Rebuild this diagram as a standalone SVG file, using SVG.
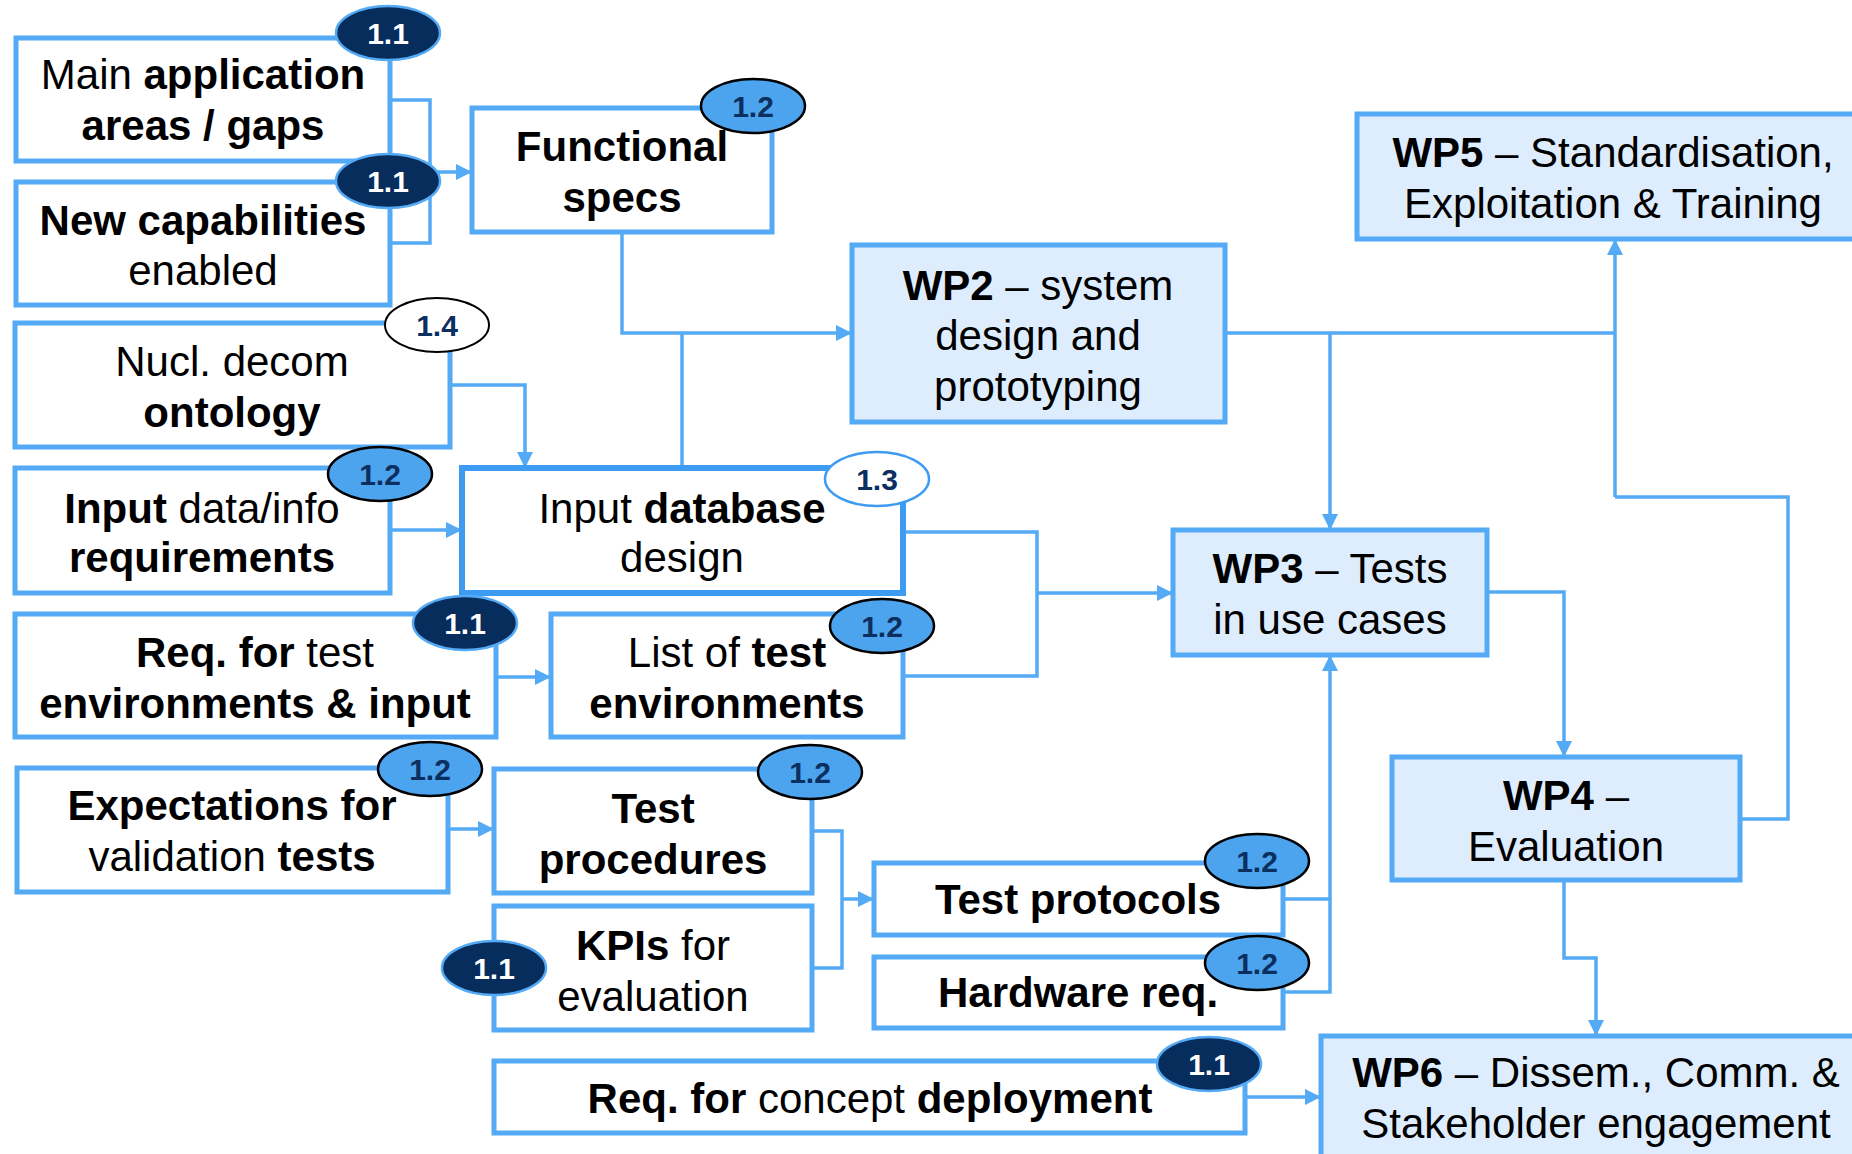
<svg xmlns="http://www.w3.org/2000/svg" width="1852" height="1154" viewBox="0 0 1852 1154">
<style>
.box{fill:#ffffff;stroke:#55aaf5;stroke-width:5}
.boxdb{fill:#ffffff;stroke:#3d9bf2;stroke-width:6}
.wp{fill:#ddedfd;stroke:#55aaf5;stroke-width:5}
.t{font-family:"Liberation Sans",Arial,sans-serif;font-size:42px;fill:#000;text-anchor:middle}
.b{font-weight:bold}
.c{fill:none;stroke:#55aaf5;stroke-width:3.5}
.ca{fill:none;stroke:#55aaf5;stroke-width:3.5;marker-end:url(#arr)}
.bd1{fill:#062d5c;stroke:#55aaf5;stroke-width:2.5}
.bd2{fill:#4ca3ee;stroke:#000;stroke-width:2.5}
.bd4{fill:#fff;stroke:#000;stroke-width:2}
.bd3{fill:#fff;stroke:#3d9bf2;stroke-width:2.5}
.bt{font-family:"Liberation Sans",Arial,sans-serif;font-size:30px;font-weight:bold;text-anchor:middle;fill:#0b2f5e}
.bw{fill:#ffffff}
</style>
<defs>
<marker id="arr" markerUnits="userSpaceOnUse" markerWidth="18" markerHeight="16" refX="16" refY="8" orient="auto">
<path d="M0,0 L16,8 L0,16 z" fill="#55aaf5"/>
</marker>
</defs>
<g id="connectors">
<polyline class="c" points="390,100 430,100 430,243 390,243"/>
<line class="ca" x1="430" y1="172" x2="472" y2="172"/>
<polyline class="ca" points="622,232 622,333 852,333"/>
<line class="c" x1="682" y1="468" x2="682" y2="333"/>
<polyline class="ca" points="450,385 525,385 525,468"/>
<line class="ca" x1="390" y1="530" x2="462" y2="530"/>
<line class="ca" x1="496" y1="677" x2="551" y2="677"/>
<polyline class="c" points="903,532 1037,532 1037,676 903,676"/>
<line class="ca" x1="1037" y1="593" x2="1173" y2="593"/>
<line class="c" x1="1225" y1="333" x2="1615" y2="333"/>
<line class="ca" x1="1330" y1="333" x2="1330" y2="530"/>
<line class="ca" x1="1615" y1="497" x2="1615" y2="239"/>
<polyline class="c" points="1740,819 1788,819 1788,497 1615,497"/>
<polyline class="ca" points="1487,592 1564,592 1564,757"/>
<polyline class="ca" points="1564,880 1564,958 1596,958 1596,1036"/>
<line class="c" x1="1283" y1="899" x2="1330" y2="899"/>
<polyline class="ca" points="1283,992 1330,992 1330,655"/>
<polyline class="c" points="812,831 842,831 842,968 812,968"/>
<line class="ca" x1="842" y1="899" x2="874" y2="899"/>
<line class="ca" x1="448" y1="829" x2="494" y2="829"/>
<line class="ca" x1="1245" y1="1097" x2="1321" y2="1097"/>
</g>
<g id="main-app">
<rect class="box" x="16" y="38" width="374" height="123"/>
<text class="t" x="203" y="89">Main <tspan class="b">application</tspan></text>
<text class="t b" x="203" y="140">areas / gaps</text>
<ellipse class="bd1" cx="388" cy="33" rx="52" ry="27"/><text class="bt bw" x="388" y="44">1.1</text>
</g>
<g id="new-cap">
<rect class="box" x="16" y="182" width="374" height="123"/>
<text class="t b" x="203" y="235">New capabilities</text>
<text class="t" x="203" y="285">enabled</text>
<ellipse class="bd1" cx="388" cy="181" rx="52" ry="27"/><text class="bt bw" x="388" y="192">1.1</text>
</g>
<g id="functional-specs">
<rect class="box" x="472" y="108" width="300" height="124"/>
<text class="t b" x="622" y="161">Functional</text>
<text class="t b" x="622" y="212">specs</text>
<ellipse class="bd2" cx="753" cy="106" rx="52" ry="27"/><text class="bt" x="753" y="117">1.2</text>
</g>
<g id="nucl">
<rect class="box" x="15" y="323" width="435" height="124"/>
<text class="t" x="232" y="376">Nucl. decom</text>
<text class="t b" x="232" y="427">ontology</text>
<ellipse class="bd4" cx="437" cy="325" rx="52" ry="27"/><text class="bt" x="437" y="336">1.4</text>
</g>
<g id="input-data">
<rect class="box" x="15" y="468" width="375" height="125"/>
<text class="t" x="202" y="523"><tspan class="b">Input</tspan> data/info</text>
<text class="t b" x="202" y="572">requirements</text>
<ellipse class="bd2" cx="380" cy="474" rx="52" ry="27"/><text class="bt" x="380" y="485">1.2</text>
</g>
<g id="input-db">
<rect class="boxdb" x="462" y="468" width="441" height="125"/>
<text class="t" x="682" y="523">Input <tspan class="b">database</tspan></text>
<text class="t" x="682" y="572">design</text>
<ellipse class="bd3" cx="877" cy="479" rx="52" ry="27"/><text class="bt" x="877" y="490">1.3</text>
</g>
<g id="req-test-env">
<rect class="box" x="15" y="614" width="481" height="123"/>
<text class="t" x="255" y="667"><tspan class="b">Req. for</tspan> test</text>
<text class="t b" x="255" y="718">environments &amp; input</text>
<ellipse class="bd1" cx="465" cy="623" rx="52" ry="27"/><text class="bt bw" x="465" y="634">1.1</text>
</g>
<g id="list-test-env">
<rect class="box" x="551" y="614" width="352" height="123"/>
<text class="t" x="727" y="667">List of <tspan class="b">test</tspan></text>
<text class="t b" x="727" y="718">environments</text>
<ellipse class="bd2" cx="882" cy="626" rx="52" ry="27"/><text class="bt" x="882" y="637">1.2</text>
</g>
<g id="expectations">
<rect class="box" x="17" y="768" width="431" height="124"/>
<text class="t b" x="232" y="820">Expectations for</text>
<text class="t" x="232" y="871">validation <tspan class="b">tests</tspan></text>
<ellipse class="bd2" cx="430" cy="769" rx="52" ry="27"/><text class="bt" x="430" y="780">1.2</text>
</g>
<g id="test-procedures">
<rect class="box" x="494" y="769" width="318" height="124"/>
<text class="t b" x="653" y="823">Test</text>
<text class="t b" x="653" y="874">procedures</text>
<ellipse class="bd2" cx="810" cy="772" rx="52" ry="27"/><text class="bt" x="810" y="783">1.2</text>
</g>
<g id="kpis">
<rect class="box" x="494" y="906" width="318" height="124"/>
<text class="t" x="653" y="960"><tspan class="b">KPIs</tspan> for</text>
<text class="t" x="653" y="1011">evaluation</text>
<ellipse class="bd1" cx="494" cy="968" rx="52" ry="27"/><text class="bt bw" x="494" y="979">1.1</text>
</g>
<g id="test-protocols">
<rect class="box" x="874" y="863" width="409" height="72"/>
<text class="t b" x="1078" y="914">Test protocols</text>
<ellipse class="bd2" cx="1257" cy="861" rx="52" ry="27"/><text class="bt" x="1257" y="872">1.2</text>
</g>
<g id="hardware">
<rect class="box" x="874" y="957" width="409" height="71"/>
<text class="t b" x="1078" y="1007">Hardware req.</text>
<ellipse class="bd2" cx="1257" cy="963" rx="52" ry="27"/><text class="bt" x="1257" y="974">1.2</text>
</g>
<g id="req-concept">
<rect class="box" x="494" y="1061" width="751" height="72"/>
<text class="t" x="870" y="1113"><tspan class="b">Req. for</tspan> concept <tspan class="b">deployment</tspan></text>
<ellipse class="bd1" cx="1209" cy="1064" rx="52" ry="27"/><text class="bt bw" x="1209" y="1075">1.1</text>
</g>
<g id="wp5">
<rect class="wp" x="1357" y="114" width="520" height="125"/>
<text class="t" x="1613" y="167"><tspan class="b">WP5</tspan> – Standardisation,</text>
<text class="t" x="1613" y="218">Exploitation &amp; Training</text>
</g>
<g id="wp2">
<rect class="wp" x="852" y="245" width="373" height="177"/>
<text class="t" x="1038" y="300"><tspan class="b">WP2</tspan> – system</text>
<text class="t" x="1038" y="350">design and</text>
<text class="t" x="1038" y="401">prototyping</text>
</g>
<g id="wp3">
<rect class="wp" x="1173" y="530" width="314" height="125"/>
<text class="t" x="1330" y="583"><tspan class="b">WP3</tspan> – Tests</text>
<text class="t" x="1330" y="634">in use cases</text>
</g>
<g id="wp4">
<rect class="wp" x="1392" y="757" width="348" height="123"/>
<text class="t" x="1566" y="810"><tspan class="b">WP4</tspan> –</text>
<text class="t" x="1566" y="861">Evaluation</text>
</g>
<g id="wp6">
<rect class="wp" x="1321" y="1036" width="560" height="140"/>
<text class="t" x="1596" y="1087"><tspan class="b">WP6</tspan> – Dissem., Comm. &amp;</text>
<text class="t" x="1596" y="1138">Stakeholder engagement</text>
</g>
</svg>
